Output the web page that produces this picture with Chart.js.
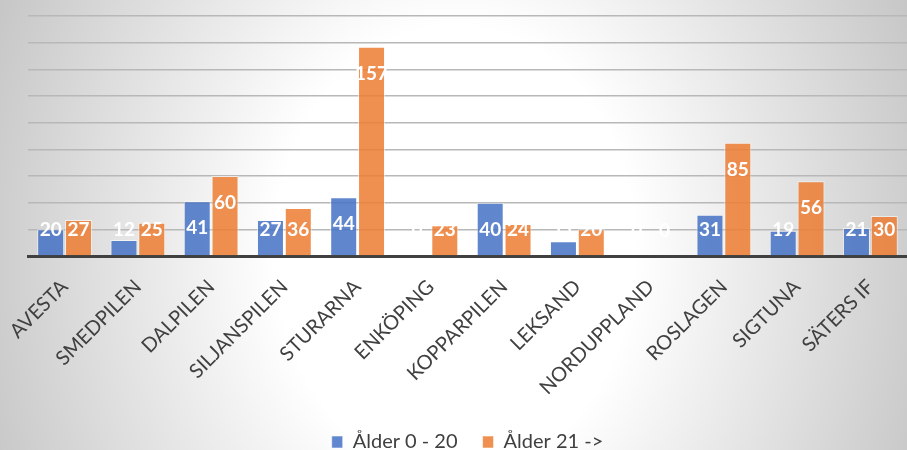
<!DOCTYPE html>
<html>
<head>
<meta charset="utf-8">
<script src="https://cdn.jsdelivr.net/npm/chart.js@4"></script>
<style>
  html, body { margin: 0; padding: 0; }
  body {
    width: 907px; height: 450px; overflow: hidden;
    background: radial-gradient(ellipse 500px 620px at 455px 250px, #ffffff 36%, #c6c6c6 100%);
  }
  #wrap { width: 907px; height: 462px; }
</style>
</head>
<body>
<div id="wrap"><canvas id="chart"></canvas></div>
<script>
// club names on the x axis
const clubs = ['AVESTA', 'SMEDPILEN', 'DALPILEN', 'SILJANSPILEN', 'STURARNA', 'ENKÖPING',
               'KOPPARPILEN', 'LEKSAND', 'NORDUPPLAND', 'ROSLAGEN', 'SIGTUNA', 'SÄTERS IF'];
// members per age group
const age0to20 = [20, 12, 41, 27, 44, 0, 40, 11, 0, 31, 19, 21];
const age21up = [27, 25, 60, 36, 157, 23, 24, 20, 0, 85, 56, 30];
const seriesNames = ['Ålder 0 - 20', 'Ålder 21 ->'];
const yMax = 180;
const yStep = 20;

const FONT = 'Lato, "Open Sans", sans-serif';

// white value labels inside the bars (no datalabels plugin available)
const barValueLabels = {
    id: 'barValueLabels',
    afterDatasetsDraw(chart) {
        const ctx = chart.ctx;
        ctx.save();
        ctx.font = 'bold 19px ' + FONT;
        ctx.fillStyle = '#ffffff';
        ctx.textAlign = 'center';
        ctx.textBaseline = 'middle';
        chart.data.datasets.forEach((ds, i) => {
            chart.getDatasetMeta(i).data.forEach((bar, j) => {
                const y = Math.min(bar.y + 27, bar.base - 25);
                ctx.fillText(String(ds.data[j]), bar.x, y);
            });
        });
        ctx.restore();
    }
};

new Chart(document.getElementById('chart'), {
    type: 'bar',
    data: {
        labels: clubs,
        datasets: [
            {
                label: seriesNames[0],
                data: age0to20,
                backgroundColor: 'rgba(68, 114, 196, 0.85)',
                borderColor: 'rgba(255, 255, 255, 0.55)',
                borderWidth: 1,
                categoryPercentage: 0.76,
                barPercentage: 0.97
            },
            {
                label: seriesNames[1],
                data: age21up,
                backgroundColor: 'rgba(237, 125, 49, 0.85)',
                borderColor: 'rgba(255, 255, 255, 0.55)',
                borderWidth: 1,
                categoryPercentage: 0.76,
                barPercentage: 0.97
            }
        ]
    },
    options: {
        responsive: true,
        maintainAspectRatio: false,
        animation: false,
        layout: { padding: { top: 16, left: 28, right: 0, bottom: 0 } },
        plugins: {
            legend: {
                position: 'bottom',
                labels: {
                    boxWidth: 11,
                    boxHeight: 12,
                    padding: 25,
                    color: '#404040',
                    font: { family: FONT, size: 20 }
                }
            },
            tooltip: { enabled: false }
        },
        scales: {
            x: {
                grid: { display: false },
                border: { color: '#404040', width: 3 },
                ticks: {
                    color: '#404040',
                    font: { family: FONT, size: 20 },
                    minRotation: 45,
                    maxRotation: 45,
                    autoSkip: false,
                    padding: 11
                },
                afterFit(scale) {
                    scale.height = 151;
                    scale.paddingLeft = 0;
                    scale.paddingRight = 0;
                }
            },
            y: {
                min: 0,
                max: yMax,
                ticks: { display: false, stepSize: yStep },
                grid: { color: '#b8b8b8', lineWidth: 1.5, drawTicks: false },
                border: { display: false },
                afterFit(scale) { scale.width = 0; }
            }
        }
    },
    plugins: [barValueLabels]
});
</script>
</body>
</html>
